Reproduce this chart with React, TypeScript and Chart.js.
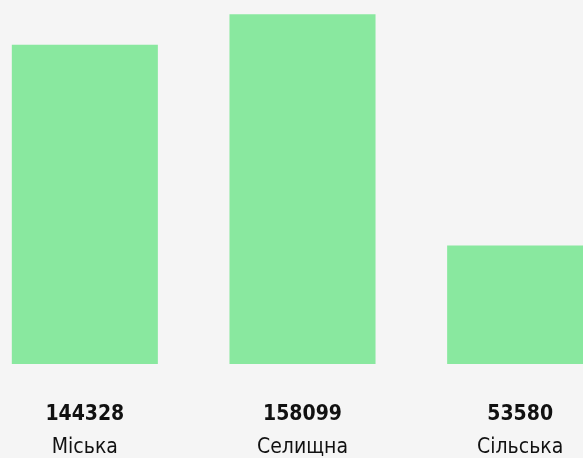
import React, { useEffect, useRef } from "react";
import { Chart, registerables } from "chart.js";

Chart.register(...registerables);

const categories = ["Міська", "Селищна", "Сільська"];
const values = [144328, 158099, 53580];
const yMax = 160000;

const BAR_COLOR = "rgb(137, 232, 159)";
const BG = "#f5f5f5";
const FONT = "'DejaVu Sans Condensed', 'DejaVu Sans', sans-serif";

const labelsPlugin = {
  id: "bottomLabels",
  afterDatasetsDraw(chart: any) {
    const { ctx, chartArea } = chart;
    const xScale = chart.scales.x;
    ctx.save();
    ctx.textAlign = "center";
    ctx.textBaseline = "middle";
    ctx.fillStyle = "#111111";
    categories.forEach((name, i) => {
      const x = xScale.getPixelForValue(i);
      ctx.font = `bold 21px ${FONT}`;
      ctx.fillText(String(values[i]), x, chartArea.bottom + 51);
      ctx.font = `21px ${FONT}`;
      ctx.fillText(name, x, chartArea.bottom + 84);
    });
    ctx.restore();
  },
};

export default function App() {
  const canvasRef = useRef<HTMLCanvasElement | null>(null);

  useEffect(() => {
    document.body.style.margin = "0";
    document.body.style.background = BG;
    const chart = new Chart(canvasRef.current as HTMLCanvasElement, {
      type: "bar",
      data: {
        labels: categories,
        datasets: [
          {
            data: values,
            backgroundColor: BAR_COLOR,
            borderWidth: 0,
            categoryPercentage: 1,
            barPercentage: 0.671,
          },
        ],
      },
      options: {
        animation: false,
        responsive: false,
        layout: { padding: { top: 10, bottom: 94, left: 0, right: 0 } },
        plugins: {
          legend: { display: false },
          tooltip: { enabled: false },
        },
        scales: {
          x: { display: false },
          y: { display: false, min: 0, max: yMax },
        },
      },
      plugins: [labelsPlugin],
    });
    return () => chart.destroy();
  }, []);

  return (
    <div
      style={{
        position: "fixed",
        left: 0,
        top: 0,
        width: 583,
        height: 458,
        overflow: "hidden",
        background: BG,
      }}
    >
      <div style={{ position: "absolute", left: -24, top: 0, width: 653, height: 458 }}>
        <canvas ref={canvasRef} width={653} height={458} />
      </div>
    </div>
  );
}
